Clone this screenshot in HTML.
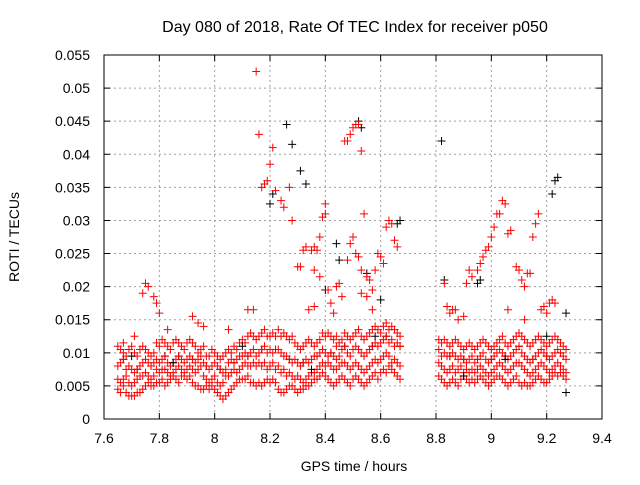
<!DOCTYPE html>
<html><head><meta charset="utf-8"><style>
body{margin:0;background:#fff}
svg text{font-family:"Liberation Sans",sans-serif;font-size:14px;fill:#000}
</style></head><body>
<svg id="chart" width="640" height="480" xmlns="http://www.w3.org/2000/svg">
<text x="355" y="32" text-anchor="middle" style="font-size:16px">Day 080 of 2018, Rate Of TEC Index for receiver p050</text>
<text x="354" y="471" text-anchor="middle">GPS time / hours</text>
<text x="19" y="237" text-anchor="middle" transform="rotate(-90 19 237)">ROTI / TECUs</text>
<g id="grid"></g>
<g id="marks"></g>
<rect x="104" y="55" width="498" height="364" fill="none" stroke="#000" stroke-width="1"/>
<g id="axes"></g>
</svg>
<script>
const xTicks=[7.6,7.8,8,8.2,8.4,8.6,8.8,9,9.2,9.4];
const xTickLabels=["7.6","7.8","8","8.2","8.4","8.6","8.8","9","9.2","9.4"];
const yTicks=[0,0.005,0.01,0.015,0.02,0.025,0.03,0.035,0.04,0.045,0.05,0.055];
const yTickLabels=["0","0.005","0.01","0.015","0.02","0.025","0.03","0.035","0.04","0.045","0.05","0.055"];
const bandTimes=[7.65,7.66,7.67,7.68,7.69,7.70,7.71,7.72,7.73,7.74,7.75,7.76,7.77,7.78,7.79,7.80,7.81,7.82,7.83,7.84,7.85,7.86,7.87,7.88,7.89,7.90,7.91,7.92,7.93,7.94,7.95,7.96,7.97,7.98,7.99,8.00,8.01,8.02,8.03,8.04,8.05,8.06,8.07,8.08,8.09,8.10,8.11,8.12,8.13,8.14,8.15,8.16,8.17,8.18,8.19,8.20,8.21,8.22,8.23,8.24,8.25,8.26,8.27,8.28,8.29,8.30,8.31,8.32,8.33,8.34,8.35,8.36,8.37,8.38,8.39,8.40,8.41,8.42,8.43,8.44,8.45,8.46,8.47,8.48,8.49,8.50,8.51,8.52,8.53,8.54,8.55,8.56,8.57,8.58,8.59,8.60,8.61,8.62,8.63,8.64,8.65,8.66,8.67,
8.81,8.82,8.83,8.84,8.85,8.86,8.87,8.88,8.89,8.90,8.91,8.92,8.93,8.94,8.95,8.96,8.97,8.98,8.99,9.00,9.01,9.02,9.03,9.04,9.05,9.06,9.07,9.08,9.09,9.10,9.11,9.12,9.13,9.14,9.15,9.16,9.17,9.18,9.19,9.20,9.21,9.22,9.23,9.24,9.25,9.26,9.27];
const bandValues=[
[.011,.008,.006,.0045],[.0105,.0085,.0055,.004],[.010,.009,.006,.005],[.0095,.0075,.0065,.004],[.0105,.008,.0055,.0035],[.011,.0075,.005,.0035],[.010,.007,.0055,.0035],[.0095,.0075,.006,.004],[.0105,.008,.0065,.004],[.011,.0085,.0065,.0045],
[.0105,.009,.007,.005],[.010,.0085,.0065,.0055],[.0095,.008,.006,.005],[.010,.0085,.0065,.005],[.0115,.009,.0075,.0055],[.011,.0085,.007,.0055],[.012,.009,.0075,.006],[.0115,.0095,.0075,.005],[.011,.0085,.007,.0055],[.0105,.008,.0065,.006],
[.0115,.0085,.007,.0065],[.012,.009,.0075,.006],[.0115,.0095,.008,.0055],[.011,.009,.0075,.0065],[.0105,.0085,.007,.0065],[.0115,.009,.0075,.006],[.012,.0095,.008,.0065],[.0115,.009,.0075,.0055],[.011,.0085,.007,.005],[.010,.009,.0075,.005],
[.0105,.0095,.008,.0045],[.011,.0085,.0065,.0045],[.0095,.008,.006,.005],[.0095,.0075,.0055,.0045],[.0105,.008,.006,.005],[.010,.0085,.0065,.0045],[.0095,.008,.0055,.004],[.009,.0075,.005,.0035],[.0095,.007,.0055,.003],[.010,.0075,.0065,.0035],
[.0105,.0085,.0065,.004],[.010,.009,.007,.0045],[.011,.0085,.0075,.005],[.0105,.009,.007,.0055],[.0115,.0095,.0075,.006],[.012,.0095,.008,.006],[.0115,.010,.0085,.006],[.0125,.0095,.008,.0065],[.013,.010,.008,.0055],[.0125,.0105,.0085,.0055],
[.012,.0095,.008,.005],[.0125,.010,.0085,.0055],[.013,.0105,.008,.005],[.0135,.011,.0085,.0055],[.0125,.010,.0075,.006],[.0125,.0105,.008,.0055],[.013,.010,.0085,.006],[.0125,.0105,.0075,.0055],[.0135,.0105,.008,.0045],[.0125,.010,.007,.004],
[.013,.0095,.0075,.004],[.0125,.0095,.0065,.0045],[.012,.009,.007,.005],[.0125,.0085,.0065,.005],[.0115,.009,.006,.0045],[.011,.0085,.0065,.004],[.0105,.008,.006,.0045],[.011,.0085,.0055,.0045],[.0115,.009,.006,.005],[.012,.0085,.0065,.005],
[.0115,.009,.007,.0055],[.011,.0095,.007,.006],[.0115,.0095,.0075,.006],[.012,.010,.008,.0065],[.013,.0105,.0085,.007],[.0125,.010,.008,.0065],[.013,.0095,.0085,.006],[.0125,.010,.008,.0055],[.012,.0095,.0075,.005],[.011,.009,.0075,.0055],
[.0115,.0095,.008,.006],[.012,.0105,.0085,.0065],[.013,.011,.0085,.006],[.0125,.010,.008,.0055],[.012,.0095,.0075,.005],[.0125,.0105,.008,.006],[.013,.011,.0085,.0065],[.0135,.0105,.008,.006],[.0125,.010,.0075,.0055],[.012,.0095,.007,.005],
[.0125,.010,.0075,.0055],[.013,.0105,.008,.006],[.0135,.011,.0085,.0065],[.014,.0115,.009,.007],[.0135,.011,.0085,.006],[.013,.0115,.009,.007],[.014,.012,.0095,.0075],[.0145,.0125,.010,.007],[.0135,.0115,.0095,.008],[.014,.012,.0085,.0075],
[.0135,.011,.009,.007],[.013,.0115,.0085,.0065],[.0125,.011,.008,.006],
[.012,.0105,.0085,.0065],[.0115,.0095,.008,.006],[.012,.010,.0075,.0055],[.0115,.0095,.007,.005],[.011,.0095,.0075,.0055],[.0115,.010,.008,.006],[.012,.0095,.007,.0055],[.0115,.009,.0075,.005],[.011,.0095,.008,.006],[.0105,.009,.007,.0065],
[.011,.0085,.0075,.006],[.0115,.009,.007,.0055],[.011,.0095,.0075,.006],[.0105,.0085,.007,.0055],[.011,.009,.0075,.006],[.0115,.0095,.008,.0065],[.012,.010,.0075,.006],[.0115,.009,.007,.0055],[.011,.0085,.0065,.005],[.0105,.009,.007,.0055],
[.011,.0095,.0075,.006],[.0115,.010,.008,.0065],[.012,.0105,.0085,.0065],[.0125,.010,.008,.006],[.0115,.0095,.0075,.0055],[.011,.009,.007,.005],[.0115,.0095,.0075,.0055],[.012,.010,.008,.006],[.0125,.0105,.0085,.0065],[.013,.011,.0085,.0055],
[.0125,.010,.008,.005],[.012,.0095,.0075,.0055],[.0115,.009,.007,.005],[.011,.0085,.0065,.005],[.0115,.009,.007,.0055],[.012,.0095,.0075,.006],[.0125,.010,.008,.0065],[.012,.0105,.0085,.006],[.0115,.010,.008,.0055],[.011,.0095,.0075,.0055],
[.0115,.009,.007,.006],[.012,.0095,.0075,.0065],[.0125,.010,.008,.007],[.012,.0105,.0085,.0065],[.0115,.010,.008,.007],[.011,.0095,.0075,.0065],[.0105,.009,.007,.006]];
const redOutT=[7.67,7.71,7.74,7.75,7.76,7.78,7.79,7.80,7.83,7.92,7.94,7.96,8.05,8.12,8.14,8.15,8.16,8.17,8.18,8.19,8.20,8.21,8.22,8.24,8.25,8.27,8.28,8.30,8.31,8.32,8.33,8.35,8.36,8.37,8.36,8.38,8.38,8.39,8.40,8.40,8.41,8.42,8.43,8.44,8.45,8.46,8.47,8.48,8.49,8.50,8.51,8.52,8.53,8.54,8.48,8.49,8.50,8.51,8.52,8.53,8.55,8.56,8.57,8.58,8.59,8.60,8.61,8.62,8.63,8.64,8.65,8.66,8.53,8.55,8.57,8.44,8.34,8.36,
8.83,8.84,8.85,8.86,8.87,8.88,8.90,8.91,8.92,8.93,8.95,8.96,8.97,8.98,8.99,9.00,9.01,9.02,9.03,9.04,9.05,9.06,9.07,9.09,9.10,9.11,9.12,9.13,9.14,9.15,9.16,9.17,9.18,9.19,9.20,9.21,9.22,9.23,9.12,9.06];
const redOutV=[.0115,.0125,.019,.0205,.020,.0185,.0175,.016,.0135,.0155,.0145,.014,.0135,.0165,.0165,.0525,.043,.035,.0355,.036,.0385,.041,.0345,.033,.032,.035,.030,.023,.023,.0255,.026,.0255,.026,.0255,.0225,.0215,.0275,.0305,.031,.0325,.0195,.0175,.016,.020,.0205,.0185,.042,.042,.043,.044,.0445,.0445,.0405,.031,.024,.0265,.0275,.025,.0245,.0225,.0215,.021,.0195,.0225,.025,.0245,.0235,.029,.030,.0295,.027,.026,.019,.0185,.0165,.0125,.0165,.017,
.0205,.017,.016,.0165,.0165,.015,.0155,.0205,.0225,.0215,.0225,.0235,.0245,.0255,.026,.0275,.029,.031,.031,.033,.0325,.028,.0285,.023,.0225,.021,.020,.022,.022,.0275,.0295,.031,.0165,.017,.016,.0175,.018,.0175,.015,.0165];
const blackT=[8.26,8.28,8.31,8.20,8.21,8.33,8.44,8.45,8.52,8.53,8.66,8.82,8.83,8.95,8.96,9.23,9.24,9.22,9.27,9.27,8.55,8.60,8.40,8.67,7.70,7.85,8.10,8.35,8.58,8.90,9.05,9.20];
const blackV=[.0445,.0415,.0375,.0325,.034,.0355,.0265,.024,.045,.044,.0295,.042,.021,.0205,.021,.036,.0365,.034,.016,.004,.022,.018,.0195,.030,.0095,.0085,.011,.0075,.0125,.0065,.009,.0125];

const X0=104,X1=602,Y0=419,Y1=55;
const xs=t=>X0+(t-7.6)/(9.4-7.6)*(X1-X0);
const ys=v=>Y0-v/0.055*(Y0-Y1);
const NS="http://www.w3.org/2000/svg";
const grid=document.getElementById('grid'),axes=document.getElementById('axes'),marks=document.getElementById('marks');
function mk(tag,attrs,parent){const e=document.createElementNS(NS,tag);for(const k in attrs)e.setAttribute(k,attrs[k]);parent.appendChild(e);return e;}
xTicks.forEach((t,i)=>{const x=xs(t);
 if(i>0&&i<xTicks.length-1){const g=mk('line',{x1:x,x2:x,y1:Y1,y2:Y0,stroke:'#a0a0a0','stroke-dasharray':'2,3'},grid);
 
 }
 const tk=mk('path',{d:`M${x},${Y0}v-6M${x},${Y1}v6`,stroke:'#000'},axes);
 
 
 const l=mk('text',{x:x,y:443,'text-anchor':'middle'},axes);l.textContent=xTickLabels[i];
 
 });
yTicks.forEach((v,i)=>{const y=ys(v);
 if(i>0&&i<yTicks.length-1){const g=mk('line',{x1:X0,x2:X1,y1:y,y2:y,stroke:'#a0a0a0','stroke-dasharray':'2,3'},grid);
 
 }
 const tk=mk('path',{d:`M${X0},${y}h6M${X1},${y}h-6`,stroke:'#000'},axes);
 
 
 const l=mk('text',{x:90,y:y+5,'text-anchor':'end'},axes);l.textContent=yTickLabels[i];
 
 });
function plus(t,v,color){const x=xs(t),y=ys(v);
 const p=mk('path',{d:`M${x-4},${y}h8M${x},${y-4}v8`,stroke:color,'stroke-width':1},marks);
 
 }
bandTimes.forEach((t,i)=>{if(i%5===2)bandValues[i].forEach((v,j)=>{if(j===1)plus(t,v,'#000');});});
bandTimes.forEach((t,i)=>bandValues[i].forEach(v=>plus(t,v,'#ff0000')));
blackT.forEach((t,i)=>plus(t,blackV[i],'#000'));
redOutT.forEach((t,i)=>plus(t,redOutV[i],'#ff0000'));
</script>
</body></html>
